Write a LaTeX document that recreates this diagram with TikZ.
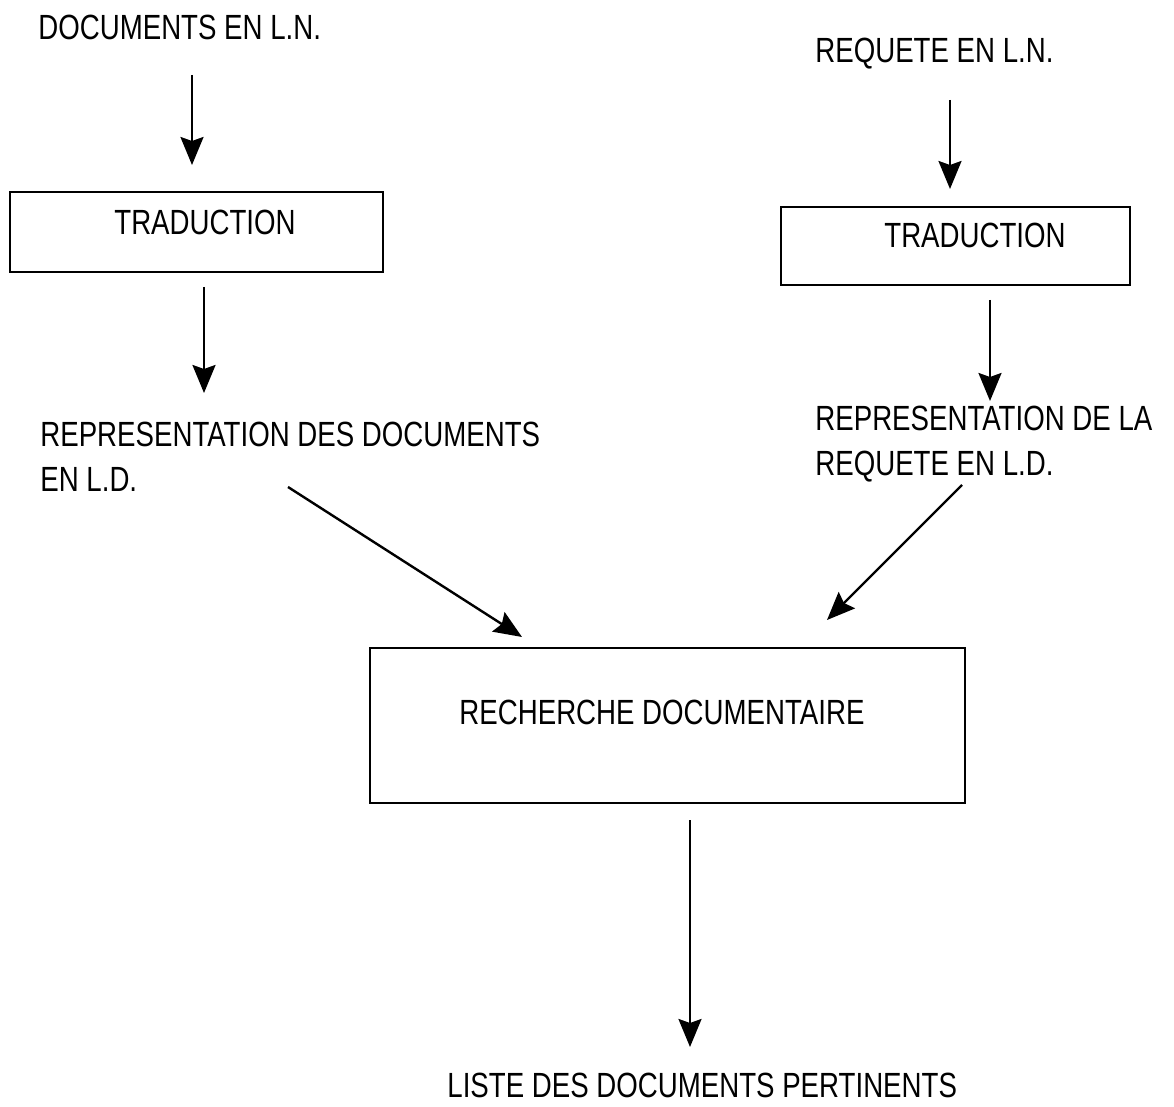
\documentclass[tikz,border=0pt]{standalone}
\usepackage{fontspec}
\setmainfont[FakeStretch=0.79]{Liberation Sans}
\usetikzlibrary{arrows.meta}
\begin{document}
\begin{tikzpicture}[x=0.5pt,y=-0.5pt,
  lbl/.style={inner sep=0pt,anchor=base west,font=\fontsize{17.5}{22.5}\selectfont},
  ctr/.style={inner sep=0pt,anchor=base,font=\fontsize{17.5}{22.5}\selectfont},
  boxx/.style={draw,line width=1.2pt,inner sep=0pt},
  arr/.style={line width=1.2pt,-{Stealth[length=14pt,width=11.5pt,inset=2pt]}}]
\useasboundingbox (0,0) rectangle (1174,1107);
% left column
\node[lbl] (doc) at (38,40) {DOCUMENTS EN L.N.};
\node[boxx,minimum width=373*0.5pt,minimum height=80*0.5pt] (tr1) at (196.5,232) {};
\node[ctr] (tr1t) at (205,235) {TRADUCTION};
\node[lbl] (rep1a) at (40,447) {REPRESENTATION DES DOCUMENTS};
\node[lbl] (rep1b) at (40,492) {EN L.D.};
% right column
\node[lbl] (req) at (815,63) {REQUETE EN L.N.};
\node[boxx,minimum width=349*0.5pt,minimum height=78*0.5pt] (tr2) at (955.5,246) {};
\node[ctr] (tr2t) at (975,248) {TRADUCTION};
\node[lbl] (rep2a) at (815,430) {REPRESENTATION DE LA};
\node[lbl] (rep2b) at (815,475) {REQUETE EN L.D.};
% center
\node[boxx,minimum width=595*0.5pt,minimum height=155*0.5pt] (rd) at (667.5,725.5) {};
\node[ctr] (rdt) at (662,724) {RECHERCHE DOCUMENTAIRE};
\node[lbl] (liste) at (447,1097) {LISTE DES DOCUMENTS PERTINENTS};
% connector endpoints
\coordinate (a1s) at (192,75);  \coordinate (a1e) at (192,165);
\coordinate (a2s) at (204,287); \coordinate (a2e) at (204,393);
\coordinate (a3s) at (950,100); \coordinate (a3e) at (950,189);
\coordinate (a4s) at (990,300); \coordinate (a4e) at (990,401);
\coordinate (a5s) at (288,487); \coordinate (a5e) at (522,637);
\coordinate (a6s) at (962,485); \coordinate (a6e) at (827,620);
\coordinate (a7s) at (690,820); \coordinate (a7e) at (690,1047);
\draw[arr] (a1s) -- (a1e);
\draw[arr] (a2s) -- (a2e);
\draw[arr] (a3s) -- (a3e);
\draw[arr] (a4s) -- (a4e);
\draw[arr] (a5s) -- (a5e);
\draw[arr] (a6s) -- (a6e);
\draw[arr] (a7s) -- (a7e);
\end{tikzpicture}
\end{document}
